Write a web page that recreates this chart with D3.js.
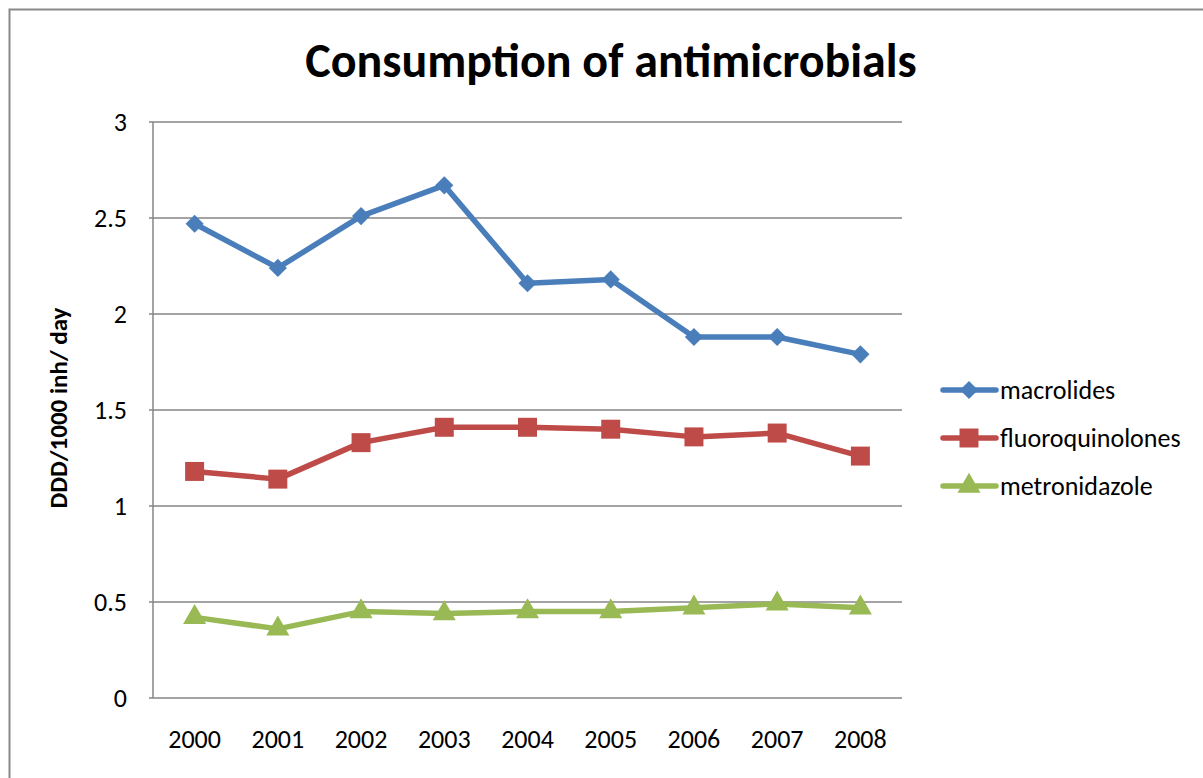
<!DOCTYPE html>
<html>
<head>
<meta charset="utf-8">
<script src="https://cdn.jsdelivr.net/npm/d3@7"></script>
<style>
  body { margin: 0; background: #fff; }
  svg { display: block; font-family: Carlito, Calibri, Lato, sans-serif; }
</style>
</head>
<body>
<svg id="chart" width="1203" height="778"></svg>
<script>
// data
var years = ["2000","2001","2002","2003","2004","2005","2006","2007","2008"];
var macrolides = [2.47, 2.24, 2.51, 2.67, 2.16, 2.18, 1.88, 1.88, 1.79];
var fluoroquinolones = [1.18, 1.14, 1.33, 1.41, 1.41, 1.40, 1.36, 1.38, 1.26];
var metronidazole = [0.42, 0.36, 0.45, 0.44, 0.45, 0.45, 0.47, 0.49, 0.47];
var seriesNames = ["macrolides", "fluoroquinolones", "metronidazole"];
var yTicks = [0, 0.5, 1, 1.5, 2, 2.5, 3];

var series = [
    {name: seriesNames[0], values: macrolides, color: "#4a7ebb", marker: "diamond"},
    {name: seriesNames[1], values: fluoroquinolones, color: "#be4b48", marker: "square"},
    {name: seriesNames[2], values: metronidazole, color: "#98b954", marker: "triangle"}
];

var svg = d3.select("#chart");
var plot = {left: 153, right: 902, top: 122, bottom: 698};

// outer frame
svg.append("rect")
    .attr("x", 9.5).attr("y", 9.5)
    .attr("width", 1220).attr("height", 800)
    .attr("fill", "none")
    .attr("stroke", "#898989")
    .attr("stroke-width", 2);

var x = d3.scaleBand().domain(years).range([plot.left, plot.right]);
var y = d3.scaleLinear().domain([0, 3]).range([plot.bottom, plot.top]);

// gridlines
svg.append("g")
    .selectAll("line")
    .data(yTicks)
    .enter().append("line")
        .attr("x1", plot.left - 4)
        .attr("x2", plot.right)
        .attr("y1", d => y(d))
        .attr("y2", d => y(d))
        .attr("stroke", "#868686")
        .attr("stroke-width", 1.5);

// y axis line
svg.append("line")
    .attr("x1", plot.left).attr("x2", plot.left)
    .attr("y1", plot.top).attr("y2", plot.bottom)
    .attr("stroke", "#868686")
    .attr("stroke-width", 1.5);

// y tick labels
svg.append("g")
    .selectAll("text")
    .data(yTicks)
    .enter().append("text")
        .attr("x", 127)
        .attr("y", d => y(d) + 9)
        .attr("text-anchor", "end")
        .attr("font-size", 26)
        .text(d => d);

// x tick labels
svg.append("g")
    .selectAll("text")
    .data(years)
    .enter().append("text")
        .attr("x", d => x(d) + x.bandwidth() / 2)
        .attr("y", 748)
        .attr("text-anchor", "middle")
        .attr("font-size", 26)
        .text(d => d);

// title
svg.append("text")
    .attr("x", 611).attr("y", 77)
    .attr("text-anchor", "middle")
    .attr("font-size", 48)
    .attr("font-weight", "bold")
    .text("Consumption of antimicrobials");

// y axis title
svg.append("text")
    .attr("transform", "translate(67,408) rotate(-90)")
    .attr("text-anchor", "middle")
    .attr("font-size", 25)
    .attr("font-weight", "bold")
    .text("DDD/1000 inh/ day");

var symbols = {
    diamond: d3.symbol().type(d3.symbolDiamond2).size(210),
    square: d3.symbol().type(d3.symbolSquare).size(360),
    triangle: d3.symbol().type(d3.symbolTriangle).size(230)
};

var line = d3.line()
    .x((d, i) => x(years[i]) + x.bandwidth() / 2)
    .y(d => y(d));

series.forEach(function(s) {
    var g = svg.append("g");
    g.append("path")
        .attr("d", line(s.values))
        .attr("fill", "none")
        .attr("stroke", s.color)
        .attr("stroke-width", 5.5)
        .attr("stroke-linejoin", "round");
    g.selectAll("path.mark")
        .data(s.values)
        .enter().append("path")
            .attr("class", "mark")
            .attr("d", symbols[s.marker])
            .attr("transform", (d, i) => "translate(" + (x(years[i]) + x.bandwidth() / 2) + "," + y(d) + ")")
            .attr("fill", s.color);
});

// legend
var legend = svg.append("g")
    .selectAll("g")
    .data(series)
    .enter().append("g")
        .attr("transform", (d, i) => "translate(0," + (390 + i * 48) + ")");
legend.append("line")
    .attr("x1", 943).attr("x2", 996)
    .attr("stroke", d => d.color)
    .attr("stroke-width", 5.5)
    .attr("stroke-linecap", "round");
legend.append("path")
    .attr("d", d => symbols[d.marker]())
    .attr("transform", "translate(969,0)")
    .attr("fill", d => d.color);
legend.append("text")
    .attr("x", 1000).attr("y", 9)
    .attr("font-size", 26)
    .text(d => d.name);
</script>
</body>
</html>
